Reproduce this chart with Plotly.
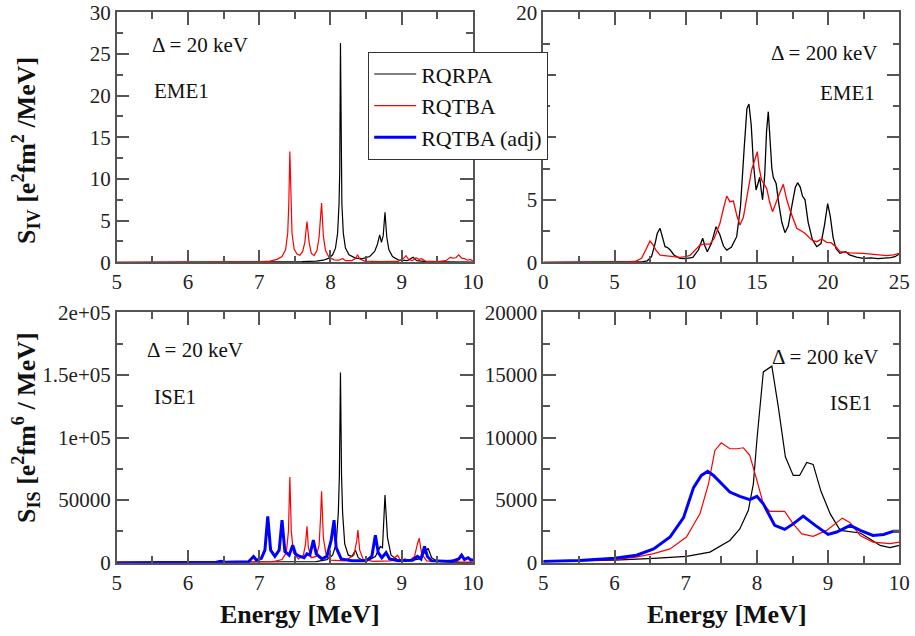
import plotly.graph_objects as go

# ---------------- data ----------------
# Top-left: IV EME1, Delta = 20 keV
tl_rqrpa_E = [5.0, 7.0, 7.6, 7.8, 7.9, 7.98, 8.03, 8.07, 8.10, 8.12, 8.13, 8.14, 8.15, 8.16, 8.18, 8.21, 8.26,
              8.35, 8.45, 8.55, 8.62, 8.66, 8.69, 8.715, 8.74, 8.765, 8.79, 8.82, 8.87, 8.95, 9.08, 9.16, 9.21,
              9.35, 9.6, 10.0]
tl_rqrpa_S = [0, 0.02, 0.08, 0.15, 0.25, 0.5, 0.9, 1.7, 3.5, 7.0, 11.0, 26.3, 11.0, 7.0, 3.5, 1.7, 0.9,
              0.5, 0.45, 0.7, 1.3, 2.2, 3.3, 2.4, 3.2, 6.0, 3.0, 1.5, 0.7, 0.3, 0.2, 0.6, 0.2,
              0.08, 0.04, 0.02]
tl_rqtba_E = [5.0, 6.8, 7.0, 7.15, 7.25, 7.32, 7.37, 7.40, 7.415, 7.43, 7.445, 7.46, 7.49, 7.53, 7.57, 7.61,
              7.64, 7.67, 7.70, 7.73, 7.77, 7.81, 7.84, 7.875, 7.90, 7.93, 7.98, 8.05, 8.12, 8.17, 8.21, 8.3,
              8.35, 8.38, 8.41, 8.48, 8.7, 8.95, 9.03, 9.06, 9.1, 9.15, 9.2, 9.24, 9.28, 9.33, 9.5, 9.62,
              9.68, 9.72, 9.76, 9.8, 9.84, 9.88, 9.92, 9.96, 10.0]
tl_rqtba_S = [0, 0.02, 0.06, 0.15, 0.35, 0.7, 1.5, 3.5, 7.0, 13.3, 7.0, 3.5, 1.6, 1.0, 0.85, 1.3,
              2.4, 4.9, 2.4, 1.1, 0.8, 1.4, 3.0, 7.1, 3.2, 1.4, 0.6, 0.3, 0.25, 0.45, 0.2, 0.2,
              0.45, 0.9, 0.4, 0.15, 0.08, 0.1, 0.5, 0.8, 0.3, 0.2, 0.55, 0.35, 0.45, 0.15, 0.08, 0.2,
              0.6, 0.5, 0.55, 0.9, 0.5, 0.45, 0.25, 0.35, 0.15]

# Top-right: IV EME1, Delta = 200 keV
tr_rqrpa_E = [0, 5.0, 6.5, 7.0, 7.3, 7.6, 7.85, 8.0, 8.2, 8.35, 8.55, 8.7, 8.9, 9.2, 9.6, 10.0, 10.5, 10.9,
              11.19, 11.35, 11.52, 11.8, 12.13, 12.4, 12.65, 12.88, 13.2, 13.58, 13.85, 14.1, 14.3, 14.44,
              14.6, 14.75, 14.94, 15.05, 15.2, 15.3, 15.4, 15.55, 15.68, 15.8, 15.92, 16.05, 16.15, 16.35,
              16.55, 16.75, 16.97, 17.2, 17.5, 17.7, 17.86, 18.05, 18.2, 18.38, 18.6, 18.9, 19.2, 19.5,
              19.75, 19.97, 20.15, 20.35, 20.55, 20.83, 21.05, 21.24, 21.5, 22.0, 22.47, 23.0, 23.5, 23.9,
              24.4, 24.7, 25.0]
tr_rqrpa_S = [0, 0, 0.02, 0.05, 0.12, 0.45, 1.5, 2.3, 2.72, 2.0, 1.25, 1.2, 1.0, 0.55, 0.32, 0.3, 0.4, 1.0,
              1.92, 1.3, 0.85, 1.5, 2.85, 2.2, 1.3, 0.98, 1.2, 2.05, 4.5, 9.0, 12.3, 12.66,
              11.0, 8.0, 5.78, 6.2, 6.8, 5.8, 5.0, 7.0, 10.5, 12.05, 10.0, 7.5, 6.8, 6.3,
              4.6, 3.2, 2.37, 2.9, 4.8, 6.0, 6.37, 6.0, 5.3, 5.0, 3.2, 1.8, 1.25, 1.5,
              3.0, 4.7, 3.7, 2.0, 1.1, 0.72, 0.8, 0.85, 0.6, 0.42, 0.32, 0.35, 0.3, 0.32,
              0.38, 0.45, 0.66]
tr_rqtba_E = [0, 5.0, 6.0, 6.5, 6.9, 7.2, 7.49, 7.7, 7.9, 8.2, 8.6, 9.13, 9.6, 10.0, 10.3, 10.7, 11.0, 11.3,
              11.7, 12.0, 12.4, 12.65, 12.88, 13.1, 13.35, 13.6, 13.81, 14.05, 14.28, 14.63, 15.03, 15.15,
              15.33, 15.69, 15.9, 16.1, 16.5, 16.85, 17.1, 17.32, 17.8, 18.38, 18.85, 19.2, 19.55, 19.9,
              20.2, 20.55, 20.84, 21.5, 22.47, 23.3, 24.1, 24.6, 25.0]
tr_rqtba_S = [0, 0, 0.03, 0.1, 0.32, 1.0, 1.7, 1.4, 1.0, 0.58, 0.5, 0.45, 0.4, 0.45, 0.55, 1.0, 1.38, 1.45,
              1.46, 1.9, 3.1, 4.3, 5.3, 4.85, 4.9, 3.7, 2.98, 3.6, 5.0, 7.4, 8.85, 7.6,
              6.58, 5.9, 4.8, 4.05, 5.25, 6.24, 5.0, 4.18, 2.72, 2.32, 1.78, 1.65, 1.86, 1.6,
              1.57, 1.25, 0.85, 0.75, 0.72, 0.62, 0.53, 0.6, 0.72]

# Bottom-left: IS E1, Delta = 20 keV
bl_rqrpa_E = [5.0, 7.5, 7.8, 7.95, 8.03, 8.08, 8.11, 8.125, 8.14, 8.155, 8.17, 8.2, 8.25, 8.3, 8.35, 8.39,
              8.45, 8.55, 8.63, 8.70, 8.73, 8.765, 8.80, 8.85, 8.95, 9.1, 9.25, 9.32, 9.37, 9.42, 9.5,
              9.7, 10.0]
bl_rqrpa_S = [0, 300, 800, 2500, 6000, 15000, 40000, 70000, 152000, 70000, 40000, 15000, 6000, 5000, 10000, 4000,
              2000, 2500, 5000, 13000, 12000, 54000, 20000, 6000, 2000, 1500, 3000, 8000, 11500, 4000, 1000,
              300, 100]
bl_rqtba_E = [5.0, 7.0, 7.2, 7.32, 7.38, 7.41, 7.43, 7.45, 7.48, 7.55, 7.62, 7.65, 7.67, 7.69, 7.73, 7.8,
              7.84, 7.86, 7.875, 7.9, 7.94, 8.0, 8.2, 8.33, 8.37, 8.385, 8.41, 8.46, 8.6, 8.85, 8.94, 8.98,
              9.05, 9.1, 9.18, 9.22, 9.245, 9.28, 9.35, 9.5, 9.7, 9.8, 10.0]
bl_rqtba_S = [0, 200, 800, 2500, 8000, 25000, 68500, 25000, 8000, 3000, 6000, 15000, 29000, 12000, 4000, 5000,
              14000, 35000, 57000, 20000, 6000, 2000, 1500, 6000, 18000, 26000, 10000, 2500, 1000, 1500, 6000, 2000,
              3000, 1500, 5000, 15000, 19500, 7000, 1500, 800, 2000, 700, 500]
bl_adj_E = [5.0, 6.4, 6.46, 6.52, 6.85, 6.92, 6.96, 7.03, 7.08, 7.12, 7.16, 7.22, 7.28, 7.32, 7.36, 7.42,
            7.47, 7.51, 7.57, 7.63, 7.67, 7.71, 7.76, 7.8, 7.88, 7.95, 8.01, 8.05, 8.08, 8.15, 8.3, 8.5,
            8.58, 8.63, 8.67, 8.72, 8.78, 8.83, 8.95, 9.15, 9.22, 9.27, 9.32, 9.36, 9.42, 9.55, 9.7, 9.8,
            9.84, 9.88, 9.93, 9.97, 10.0]
bl_adj_S = [0, 300, 1200, 300, 800, 5000, 2000, 3500, 10000, 37000, 10000, 5000, 10000, 34000, 9000, 6000,
            14000, 7000, 5000, 4000, 7000, 6000, 18000, 7000, 3000, 5000, 18000, 34000, 12000, 3000, 1500, 1500,
            5000, 22000, 8000, 4000, 8000, 3000, 1500, 2000, 5000, 3000, 13000, 5000, 1500, 1500, 1000, 3000,
            6000, 2500, 4000, 2000, 2500]

# Bottom-right: IS E1, Delta = 200 keV
br_rqrpa_E = [5.0, 5.5, 6.0, 6.55, 7.01, 7.34, 7.62, 7.76, 7.88, 7.95, 8.0, 8.09, 8.21, 8.3, 8.4, 8.51,
              8.6, 8.7, 8.79, 8.9, 9.03, 9.17, 9.45, 9.6, 9.73, 9.87, 10.0]
br_rqrpa_S = [80, 120, 200, 350, 500, 850, 1780, 2700, 4180, 6300, 9800, 15240, 15700, 12460, 8460, 6970,
              6970, 8000, 7850, 5700, 3900, 2580, 2370, 1850, 1380, 1200, 1380]
br_rqtba_E = [5.0, 5.5, 6.0, 6.3, 6.55, 6.78, 7.01, 7.2, 7.32, 7.41, 7.5, 7.62, 7.72, 7.81, 7.9, 8.0,
              8.09, 8.18, 8.39, 8.51, 8.63, 8.79, 8.98, 9.2, 9.31, 9.45, 9.63, 9.87, 10.0]
br_rqtba_S = [100, 150, 250, 450, 720, 1100, 2050, 3900, 6300, 8970, 9580, 9100, 9100, 9180, 8570, 6570,
              4700, 4100, 4100, 3100, 2300, 2100, 2580, 3560, 3200, 2180, 1650, 1520, 1650]
br_adj_E = [5.0, 5.5, 6.0, 6.31, 6.55, 6.78, 6.97, 7.11, 7.22, 7.31, 7.39, 7.5, 7.62, 7.76, 7.9, 8.0,
            8.09, 8.25, 8.39, 8.51, 8.65, 8.82, 9.0, 9.12, 9.31, 9.45, 9.63, 9.78, 9.92, 10.0]
br_adj_S = [100, 180, 350, 600, 1100, 2050, 3600, 6000, 6970, 7300, 6970, 6300, 5640, 5300, 5030, 5300,
            4700, 2980, 2660, 3100, 3720, 2980, 2260, 2450, 2980, 2580, 2180, 2260, 2520, 2520]

# ticks
bl_y_tickvals = [0, 50000, 100000, 150000, 200000]
bl_y_ticktext = ["0", "50000", "1e+05", "1.5e+05", "2e+05"]

series_names = ["RQRPA", "RQTBA", "RQTBA (adj)"]
# --------------------------------------------------------------

BLACK = "#000000"
RED = "#ff0000"
BLUE = "#0000ff"
W, H = 915, 636

fig = go.Figure()

def add(x, y, color, width, name, xa, ya, show):
    fig.add_trace(go.Scatter(x=x, y=y, mode="lines", name=name, showlegend=show,
                             line=dict(color=color, width=width),
                             xaxis=xa, yaxis=ya, hoverinfo="skip"))

add(tl_rqrpa_E, tl_rqrpa_S, BLACK, 1.2, series_names[0], "x", "y", True)
add(tl_rqtba_E, tl_rqtba_S, RED, 1.2, series_names[1], "x", "y", True)
add(tr_rqrpa_E, tr_rqrpa_S, BLACK, 1.3, series_names[0], "x2", "y2", False)
add(tr_rqtba_E, tr_rqtba_S, RED, 1.3, series_names[1], "x2", "y2", False)
add(bl_rqrpa_E, bl_rqrpa_S, BLACK, 1.2, series_names[0], "x3", "y3", False)
add(bl_rqtba_E, bl_rqtba_S, RED, 1.2, series_names[1], "x3", "y3", False)
add(bl_adj_E, bl_adj_S, BLUE, 3, series_names[2], "x3", "y3", True)
add(br_rqrpa_E, br_rqrpa_S, BLACK, 1.2, series_names[0], "x4", "y4", False)
add(br_rqtba_E, br_rqtba_S, RED, 1.2, series_names[1], "x4", "y4", False)
add(br_adj_E, br_adj_S, BLUE, 3, series_names[2], "x4", "y4", False)

FRAME = "#555555"
TICKFONT = dict(family="Liberation Serif", size=21, color="#222222")

def ax(domain, rng, anchor, dtick=None, minor_dtick=None, **kw):
    d = dict(domain=domain, range=rng, anchor=anchor, showgrid=False, zeroline=False,
             showline=True, linecolor=FRAME, linewidth=1.5, mirror="allticks",
             ticks="inside", ticklen=13, tickwidth=1.5, tickcolor=FRAME,
             tickfont=TICKFONT, automargin=False, tickformat="d",
             minor=dict(dtick=minor_dtick, ticks="inside", ticklen=7, tickwidth=1.5,
                        tickcolor=FRAME, showgrid=False))
    if dtick is not None:
        d.update(tickmode="linear", tick0=rng[0], dtick=dtick)
    d.update(kw)
    return d

xl = [116.7 / W, 473.0 / W]
xr = [543.3 / W, 899.3 / W]
yt = [1 - 262.3 / H, 1 - 12.3 / H]
yb = [1 - 562.7 / H, 1 - 312.3 / H]

fig.update_layout(
    width=W, height=H, margin=dict(l=0, r=0, t=0, b=0),
    paper_bgcolor="white", plot_bgcolor="white",
    xaxis=ax(xl, [5, 10], "y", 1, 0.5),
    yaxis=ax(yt, [0, 30], "x", 5, 2.5),
    xaxis2=ax(xr, [0, 25], "y2", 5, 2.5),
    yaxis2=ax(yt, [0, 20], "x2", 5, 2.5),
    xaxis3=ax(xl, [5, 10], "y3", 1, 0.5),
    yaxis3=ax(yb, [0, 200000], "x3", None, 25000, tickmode="array",
              tickvals=bl_y_tickvals, ticktext=bl_y_ticktext),
    xaxis4=ax(xr, [5, 10], "y4", 1, 0.5),
    yaxis4=ax(yb, [0, 20000], "x4", 5000, 2500),
    legend=dict(x=368 / W, y=1 - 52 / H, xanchor="left", yanchor="top",
                bgcolor="white", bordercolor="#333333", borderwidth=1.2,
                font=dict(family="Liberation Serif", size=22, color="#111111"),
                tracegroupgap=0, itemwidth=42),
    showlegend=True,
)

ANN_FONT = dict(family="Liberation Serif", size=21, color="#111111")
TITLE_FONT = dict(family="Liberation Serif", size=26, color="#111111")

def ann(text, px, py, xanchor="left", font=ANN_FONT, angle=0):
    fig.add_annotation(text=text, xref="paper", yref="paper", x=px / W, y=1 - py / H,
                       xanchor=xanchor, yanchor="middle", showarrow=False, font=font,
                       textangle=angle)

ann("Δ = 20 keV", 150, 45)
ann("EME1", 152, 91)
ann("Δ = 200 keV", 879, 53, "right")
ann("EME1", 877, 93, "right")
ann("Δ = 20 keV", 145, 350)
ann("ISE1", 152, 397)
ann("Δ = 200 keV", 880, 357, "right")
ann("ISE1", 874, 403, "right")

ann("<b>Energy [MeV]</b>", 300, 614, "center", TITLE_FONT)
ann("<b>Energy [MeV]</b>", 727, 614, "center", TITLE_FONT)
ann("<b>S<sub>IV</sub> [e<sup>2</sup>fm<sup>2</sup> /MeV]</b>", 26, 151, "center", TITLE_FONT, -90)
ann("<b>S<sub>IS</sub> [e<sup>2</sup>fm<sup>6</sup> / MeV]</b>", 26, 428, "center", TITLE_FONT, -90)

fig.write_html("out.html")
